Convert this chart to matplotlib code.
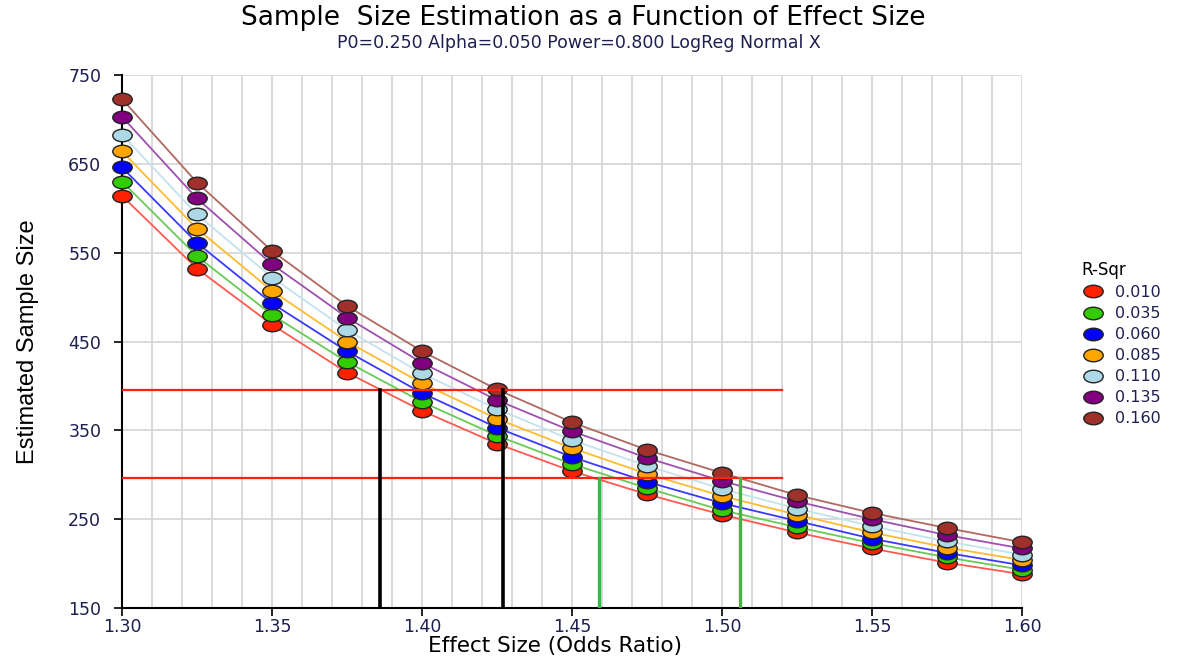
import numpy as np
import matplotlib
matplotlib.use("Agg")
import matplotlib.pyplot as plt
from matplotlib.path import Path
from matplotlib.transforms import Affine2D
from matplotlib.lines import Line2D

plt.rcParams['font.family'] = ['DejaVu Sans']

# 数据
odds_ratio = [1.30, 1.325, 1.35, 1.375, 1.40, 1.425, 1.45, 1.475, 1.50, 1.525, 1.55, 1.575, 1.60]
r_sqr = ["0.010", "0.035", "0.060", "0.085", "0.110", "0.135", "0.160"]
n_010 = [614, 532, 469, 415, 372, 335, 304, 278, 255, 235, 217, 201, 188]
n_035 = [630, 546, 480, 427, 382, 344, 312, 285, 260, 241, 223, 207, 193]
n_060 = [646, 561, 493, 439, 392, 353, 320, 292, 268, 248, 228, 212, 198]
n_085 = [664, 577, 507, 450, 403, 363, 330, 301, 276, 255, 235, 218, 204]
n_110 = [683, 593, 522, 463, 414, 374, 339, 310, 284, 262, 242, 225, 210]
n_135 = [703, 611, 537, 477, 426, 384, 349, 319, 293, 270, 250, 232, 217]
n_160 = [723, 629, 552, 490, 439, 396, 359, 328, 302, 277, 257, 240, 224]
series = [n_010, n_035, n_060, n_085, n_110, n_135, n_160]

# 参考线
ref_levels = [395, 296]
ref_xmax = 1.52
black_x = [1.386, 1.427]
green_x = [1.459, 1.506]

marker_colors = ["#ff2000", "#33cc00", "#0000ff", "#ffa500", "#add8e6", "#800080", "#a0302a"]
line_colors = ["#ff5a50", "#66cc55", "#3a3aff", "#ffbb30", "#c4e2ee", "#a050b0", "#b06860"]

ellipse = Path.unit_circle().transformed(Affine2D().scale(1.55, 1.0))
navy = "#1e1e50"

fig = plt.figure(figsize=(11.79, 6.61), dpi=100)
ax = fig.add_axes([0.1035, 0.0802, 0.7633, 0.8063])

for vals, lc in zip(series, line_colors):
    ax.plot(odds_ratio, vals, color=lc, lw=1.3, zorder=3)
for vals, mc in zip(series, marker_colors):
    ax.plot(odds_ratio, vals, ls="none", marker=ellipse, markersize=14,
            markerfacecolor=mc, markeredgecolor="#222222", markeredgewidth=1.0,
            zorder=4, clip_on=False)

for y in ref_levels:
    ax.plot([1.30, ref_xmax], [y, y], color="#ff2010", lw=1.6, zorder=5)
for x in black_x:
    ax.plot([x, x], [150, ref_levels[0]], color="black", lw=2.6, zorder=5)
for x in green_x:
    ax.plot([x, x], [150, ref_levels[1]], color="#33bb44", lw=2.4, zorder=5)

ax.set_xlim(1.30, 1.60)
ax.set_ylim(150, 750)
ax.set_xticks(np.arange(1.30, 1.601, 0.05))
ax.set_xticks(np.arange(1.30, 1.601, 0.01), minor=True)
ax.set_xticklabels([f"{v:.2f}" for v in np.arange(1.30, 1.601, 0.05)])
ax.set_yticks(np.arange(150, 751, 100))
ax.grid(True, which="both", axis="x", color="#d8d8d8", lw=1.3, zorder=0)
ax.grid(True, which="major", axis="y", color="#d8d8d8", lw=1.3, zorder=0)
ax.tick_params(axis="x", which="minor", length=0)
ax.tick_params(axis="both", which="major", length=6, width=1.2, direction="out",
               labelsize=12.5, labelcolor=navy)
ax.tick_params(axis="x", pad=1)
ax.tick_params(axis="y", pad=9)
for s in ["top", "right"]:
    ax.spines[s].set_visible(False)
for s in ["left", "bottom"]:
    ax.spines[s].set_linewidth(1.5)
ax.set_axisbelow(True)

ax.set_xlabel("Effect Size (Odds Ratio)", fontsize=15.5)
ax.xaxis.set_label_coords(0.481, -0.052)
ax.set_ylabel("Estimated Sample Size", fontsize=17,
              family=["Liberation Sans Narrow", "Liberation Sans"])
ax.yaxis.set_label_coords(-0.092, 0.5)

fig.text(0.495, 0.973, "Sample  Size Estimation as a Function of Effect Size",
         ha="center", va="center", fontsize=19)
fig.text(0.491, 0.935, "P0=0.250 Alpha=0.050 Power=0.800 LogReg Normal X",
         ha="center", va="center", fontsize=12.5, color=navy)

handles = [Line2D([], [], ls="none", marker=ellipse, markersize=14, markerfacecolor=mc,
                  markeredgecolor="#222222", markeredgewidth=1.0) for mc in marker_colors]
leg = fig.legend(handles, r_sqr, title="R-Sqr", loc="center left",
                 bbox_to_anchor=(0.905, 0.48), frameon=False, fontsize=11.5,
                 title_fontsize=12, labelspacing=0.38, handletextpad=0.6,
                 handlelength=1.5, labelcolor=navy, alignment="left")

plt.savefig("out.png", dpi=100)
